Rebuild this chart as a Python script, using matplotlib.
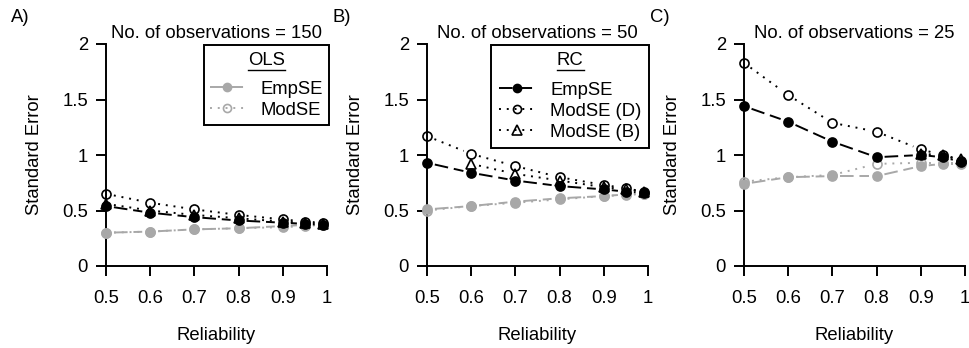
import numpy as np
import matplotlib.pyplot as plt
from matplotlib.lines import Line2D

plt.rcParams['font.family'] = ['Liberation Sans', 'DejaVu Sans']

reliability = [0.5, 0.6, 0.7, 0.8, 0.9, 0.95, 0.99]
nan = np.nan

# n = 150
ols_emp_150 = [0.30, 0.31, 0.33, 0.34, 0.36, 0.37, 0.37]
ols_mod_150 = [0.30, 0.31, 0.33, 0.34, 0.35, 0.36, 0.37]
rc_emp_150 = [0.54, 0.48, 0.44, 0.41, 0.39, 0.38, 0.37]
rc_modd_150 = [0.65, 0.57, 0.51, 0.46, 0.42, 0.40, 0.39]
rc_modb_150 = [0.56, 0.50, 0.46, 0.43, 0.40, 0.39, 0.38]

# n = 50
ols_emp_50 = [0.51, 0.54, 0.58, 0.61, 0.63, 0.645, 0.65]
ols_mod_50 = [0.50, 0.54, 0.57, 0.60, 0.63, 0.64, 0.65]
rc_emp_50 = [0.93, 0.84, 0.77, 0.72, 0.69, 0.67, 0.66]
rc_modd_50 = [1.17, 1.01, 0.90, 0.80, 0.73, 0.70, 0.67]
rc_modb_50 = [nan, 0.92, 0.83, 0.77, 0.71, 0.69, 0.67]

# n = 25
ols_emp_25 = [0.74, 0.80, 0.81, 0.81, 0.90, 0.92, 0.92]
ols_mod_25 = [0.76, 0.80, 0.82, 0.92, 0.93, 0.93, 0.93]
rc_emp_25 = [1.44, 1.30, 1.12, 0.98, 1.00, 0.98, 0.94]
rc_modd_25 = [1.83, 1.54, 1.29, 1.21, 1.05, 1.00, 0.95]
rc_modb_25 = [nan, nan, nan, nan, 1.01, 1.00, 0.96]

n_obs = [150, 50, 25]
panel_tags = ['A)', 'B)', 'C)']
xticks = [0.5, 0.6, 0.7, 0.8, 0.9, 1.0]
xticklabels = ['0.5', '0.6', '0.7', '0.8', '0.9', '1']
yticks = [0, 0.5, 1, 1.5, 2]
yticklabels = ['0', '0.5', '1', '1.5', '2']

panels = [
    (ols_emp_150, ols_mod_150, rc_emp_150, rc_modd_150, rc_modb_150),
    (ols_emp_50, ols_mod_50, rc_emp_50, rc_modd_50, rc_modb_50),
    (ols_emp_25, ols_mod_25, rc_emp_25, rc_modd_25, rc_modb_25),
]

GREY = '#a8a8a8'
LONGDASH = (0, (7, 3))
DOTTED = (0, (1, 3))
LW = 1.4
FS = 13.3

W, H = 969, 348
fig = plt.figure(figsize=(W / 100, H / 100), dpi=100)

# axes placement in pixels (left, right), y from 0 at 266 to 2 at 44
lefts = [106, 427, 744]
axw = 221
y0, y1 = 266, 44


def connect_b(ax, x, y, color, ls, gap=8):
    # R type="b": segments stop short of the points
    pts = ax.transData.transform(np.column_stack([x, y]))
    inv = ax.transData.inverted()
    for i in range(len(x) - 1):
        p0, p1 = pts[i], pts[i + 1]
        if np.any(np.isnan(p0)) or np.any(np.isnan(p1)):
            continue
        d = p1 - p0
        L = np.hypot(d[0], d[1])
        if L <= 2 * gap + 1:
            continue
        u = d / L
        a = inv.transform(p0 + u * gap)
        b = inv.transform(p1 - u * gap)
        ax.plot([a[0], b[0]], [a[1], b[1]], color=color, ls=ls, lw=LW,
                clip_on=False, dash_capstyle='butt')


def pts(ax, x, y, color, marker, filled):
    ax.plot(x, y, ls='none', marker=marker, ms=6.5 if marker == 'o' else 7,
            mfc=color if filled else 'none', mec=color, mew=1.2,
            clip_on=False, zorder=3)


axes = []
for k in range(3):
    ax = fig.add_axes([lefts[k] / W, (H - y0) / H, axw / W, (y0 - y1) / H])
    ax.set_xlim(0.5, 1.0)
    ax.set_ylim(0, 2)
    for s in ['top', 'right']:
        ax.spines[s].set_visible(False)
    for s in ['left', 'bottom']:
        ax.spines[s].set_linewidth(1.4)
    ax.set_xticks(xticks)
    ax.set_xticklabels(xticklabels)
    ax.set_yticks(yticks)
    ax.set_yticklabels(yticklabels)
    ax.tick_params(direction='out', length=7, width=1.4, labelsize=FS)
    ax.tick_params(axis='x', pad=10)
    ax.tick_params(axis='y', pad=6)
    ax.set_xlabel('Reliability', fontsize=FS)
    ax.xaxis.set_label_coords(0.5, -0.275)
    ax.set_ylabel('Standard Error', fontsize=FS)
    ax.yaxis.set_label_coords(-0.285, 0.5)
    ax.set_title('No. of observations = %d' % n_obs[k], fontsize=FS, pad=4)

    oe, om, re, rd, rb = panels[k]
    connect_b(ax, reliability, oe, GREY, LONGDASH)
    pts(ax, reliability, oe, GREY, 'o', True)
    connect_b(ax, reliability, om, GREY, DOTTED)
    pts(ax, reliability, om, GREY, 'o', False)
    connect_b(ax, reliability, re, 'black', LONGDASH)
    pts(ax, reliability, re, 'black', 'o', True)
    connect_b(ax, reliability, rd, 'black', DOTTED)
    pts(ax, reliability, rd, 'black', 'o', False)
    connect_b(ax, reliability, rb, 'black', DOTTED)
    pts(ax, reliability, rb, 'black', '^', False)
    axes.append(ax)

fig.text(11 / W, 1 - 18 / H, 'A)', fontsize=FS, va='center')
fig.text(333 / W, 1 - 18 / H, 'B)', fontsize=FS, va='center')
fig.text(650 / W, 1 - 17 / H, 'C)', fontsize=FS, va='center')


def handle(color, ls, marker, filled):
    return Line2D([], [], color=color, ls=ls, lw=LW, marker=marker,
                  ms=5.8 if marker == 'o' else 6.5,
                  mfc=color if filled else 'none', mec=color, mew=1.2)


leg_a = axes[0].legend(
    [handle(GREY, LONGDASH, 'o', True), handle(GREY, DOTTED, 'o', False)],
    ['EmpSE', 'ModSE'], title='OLS', title_fontsize=FS, fontsize=FS,
    loc='upper right', bbox_to_anchor=(1.01, 0.995), frameon=True,
    fancybox=False, edgecolor='black', framealpha=1, borderaxespad=0,
    handlelength=1.85, handletextpad=0.87, labelspacing=0.22, borderpad=0.35)
leg_a.get_frame().set_linewidth(1.4)

leg_b = axes[1].legend(
    [handle('black', LONGDASH, 'o', True), handle('black', DOTTED, 'o', False),
     handle('black', DOTTED, '^', False)],
    ['EmpSE', 'ModSE (D)', 'ModSE (B)'], title='RC', title_fontsize=FS,
    fontsize=FS, loc='upper right', bbox_to_anchor=(1.005, 0.995), frameon=True,
    fancybox=False, edgecolor='black', framealpha=1, borderaxespad=0,
    handlelength=2.0, handletextpad=0.8, labelspacing=0.22, borderpad=0.4)
leg_b.get_frame().set_linewidth(1.4)

# more room between legend title and entries, like the R legend
for leg in [leg_a, leg_b]:
    leg._legend_box.sep = 0.65 * FS

# underline legend titles
fig.canvas.draw()
rend = fig.canvas.get_renderer()
for leg in [leg_a, leg_b]:
    bb = leg.get_title().get_window_extent(rend)
    p = fig.transFigure.inverted().transform([[bb.x0, bb.y0 - 1], [bb.x1, bb.y0 - 1]])
    fig.add_artist(Line2D(p[:, 0], p[:, 1], color='black', lw=1.0,
                          transform=fig.transFigure))

fig.savefig('out.png', dpi=100)
